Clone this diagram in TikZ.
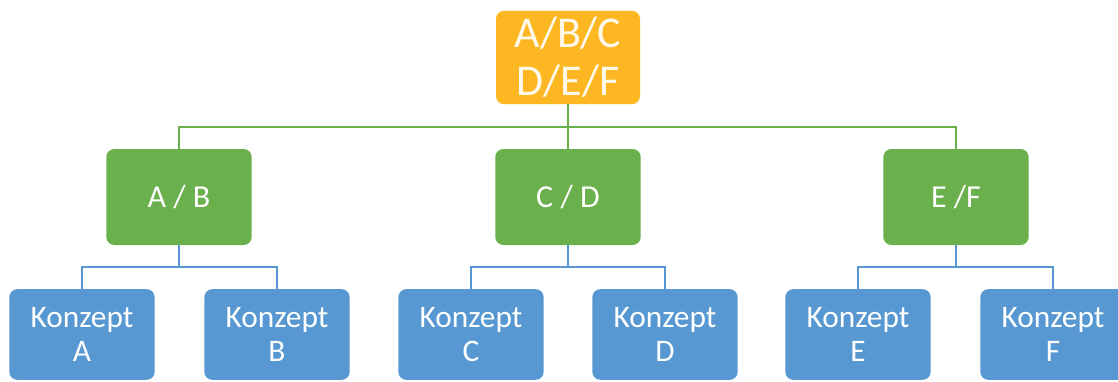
\documentclass[tikz,border=0pt]{standalone}
\usepackage{fontspec}
\setmainfont{Carlito}
\usetikzlibrary{positioning}

\definecolor{topgold}{RGB}{253,183,34}
\definecolor{midgreen}{RGB}{106,176,76}
\definecolor{leafblue}{RGB}{88,152,210}

\tikzset{
  box/.style={rectangle,rounded corners=6pt,inner sep=0pt,align=center,
    text=white,minimum width=109pt},
  topbox/.style={box,fill=topgold,minimum width=108pt,minimum height=70pt,
    font=\fontsize{33}{36}\selectfont,text=white!92!topgold},
  groupbox/.style={box,fill=midgreen,minimum height=72pt,
    font=\fontsize{24}{28}\selectfont},
  leafbox/.style={box,fill=leafblue,minimum height=68pt,
    font=\fontsize{23.5}{26}\selectfont},
  greenline/.style={draw=midgreen,line width=2.1pt},
  blueline/.style={draw=leafblue,line width=2.1pt}
}

\begin{document}
\begin{tikzpicture}[x=0.75pt,y=-0.75pt]
  \useasboundingbox (0,0) rectangle (1118,382);

  % top
  \node[topbox] (abcdef) at (568,57.5) {A/B/C\\D/E/F};

  % groups
  \node[groupbox] (ab) at (179,197) {A / B};
  \node[groupbox] (cd) at (568,197) {C / D};
  \node[groupbox] (ef) at (956,197) {E /F};

  % leaves
  \node[leafbox] (ka) at (82,334.5) {Konzept\\A};
  \node[leafbox] (kb) at (277,334.5) {Konzept\\B};
  \node[leafbox] (kc) at (471,334.5) {Konzept\\C};
  \node[leafbox] (kd) at (665,334.5) {Konzept\\D};
  \node[leafbox] (ke) at (858,334.5) {Konzept\\E};
  \node[leafbox] (kf) at (1053,334.5) {Konzept\\F};

  % bus lines
  \coordinate (gbus) at (568,127);
  \coordinate (abbus) at (179,267);
  \coordinate (cdbus) at (568,267);
  \coordinate (efbus) at (956,267);

  \path[greenline]
  (abcdef.south) -- (gbus)
  (gbus) -| (ab.north)
  (gbus) -| (ef.north)
  (gbus) -- (cd.north);

  \foreach \grp/\lft/\rgt in {ab/ka/kb,cd/kc/kd,ef/ke/kf}{
    \path[blueline]
    (\grp.south) -- (\grp bus)
    (\grp bus) -| (\lft.north)
    (\grp bus) -| (\rgt.north);
  }
\end{tikzpicture}
\end{document}
